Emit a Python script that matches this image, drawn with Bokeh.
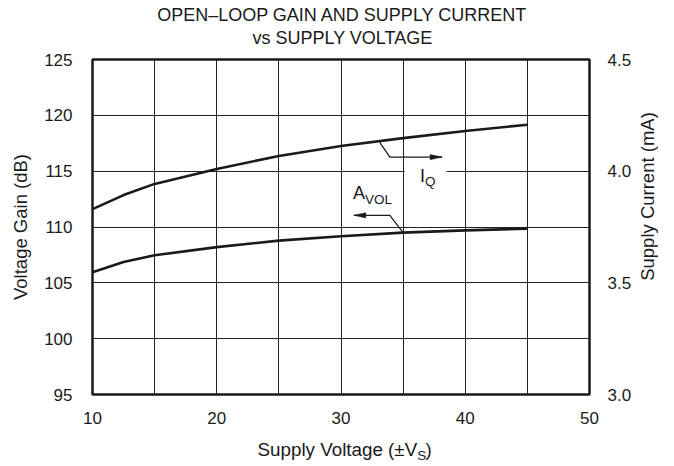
import math
from bokeh.plotting import figure
from bokeh.models import (Range1d, LinearAxis, FixedTicker, Label,
                          BoxAnnotation)
from bokeh.layouts import column, row
from bokeh.core.properties import value
from bokeh.embed import file_html
from bokeh.resources import INLINE

# ---------------- data ----------------
supply_voltage = [10, 12.5, 15, 20, 25, 30, 35, 40, 45]
avol_db = [105.95, 106.87, 107.47, 108.2, 108.78, 109.17, 109.5, 109.7, 109.85]
iq_ma = [3.83, 3.893, 3.943, 4.01, 4.068, 4.113, 4.148, 4.18, 4.208]

x_ticks = [10, 20, 30, 40, 50]
x_grid = [10, 15, 20, 25, 30, 35, 40, 45, 50]
y_ticks = [95, 100, 105, 110, 115, 120, 125]
iq_ticks = [3.0, 3.5, 4.0, 4.5]
iq_tick_labels = ["3.0", "3.5", "4.0", "4.5"]

title_lines = ["OPEN\u2013LOOP GAIN AND SUPPLY CURRENT", "vs SUPPLY VOLTAGE"]
y_label = "Voltage Gain (dB)"
y2_label = "Supply Current (mA)"

# annotation leader points (x in V, y in dB)
iq_leader_x = [33.12, 33.93, 38.14]
iq_leader_y = [117.58, 116.26, 116.26]
avol_leader_x = [34.97, 33.93, 31.03]
avol_leader_y = [109.55, 111.05, 111.05]

FONT = "Liberation Sans"
INK = "#1a1a1a"

X0, X1, Y0, Y1 = 10, 50, 95, 125
FW, FH = 497, 335
BL, BR, BT, BB = 92, 45, 8, 36
TOP_H, BOT_H, RIGHT_W = 51, 32, 24
MAIN_W = BL + FW + BR
MAIN_H = BT + FH + BB
TOTAL_W = MAIN_W + RIGHT_W
px_x = (X1 - X0) / FW   # data units per pixel
px_y = (Y1 - Y0) / FH

p = figure(frame_width=FW, frame_height=FH, x_range=Range1d(X0, X1),
           y_range=Range1d(Y0, Y1), output_backend="svg", toolbar_location=None,
           min_border_left=BL, min_border_right=BR, min_border_top=BT,
           min_border_bottom=BB)
p.extra_y_ranges = {"iq": Range1d(3.0, 4.5)}

p.outline_line_color = INK
p.outline_line_width = 2.5
p.outline_line_alpha = 1.0
p.background_fill_color = "white"
p.border_fill_color = "white"

# grid
p.xgrid.ticker = FixedTicker(ticks=x_grid)
p.ygrid.ticker = FixedTicker(ticks=y_ticks)
for g in (p.xgrid, p.ygrid):
    g.grid_line_color = "#222222"
    g.grid_line_width = 1
    g.grid_line_alpha = 1.0

# axes
left = p.yaxis[0]
bottom = p.xaxis[0]
bottom.ticker = FixedTicker(ticks=x_ticks)
left.ticker = FixedTicker(ticks=y_ticks)
right = LinearAxis(y_range_name="iq", ticker=FixedTicker(ticks=iq_ticks),
                   major_label_overrides={t: s for t, s in zip(iq_ticks, iq_tick_labels)})
p.add_layout(right, "right")

for ax in (bottom, left, right):
    ax.axis_line_alpha = 0
    ax.major_tick_in = 0
    ax.major_tick_out = 0
    ax.minor_tick_in = 0
    ax.minor_tick_out = 0
    ax.major_label_text_font = FONT
    ax.major_label_text_font_size = "17px"
    ax.major_label_text_color = INK
    ax.axis_label_text_font = FONT
    ax.axis_label_text_font_size = "18.5px"
    ax.axis_label_text_font_style = "normal"
    ax.axis_label_text_color = INK

bottom.major_label_standoff = 17
left.major_label_standoff = 20
right.major_label_standoff = 18
left.axis_label = y_label
left.axis_label_standoff = 10

# curves
p.line(supply_voltage, avol_db, line_color=INK, line_width=2.6)
p.line(supply_voltage, iq_ma, line_color=INK, line_width=2.6, y_range_name="iq")

# leaders
p.line(iq_leader_x, iq_leader_y, line_color=INK, line_width=1.2)
p.line(avol_leader_x, avol_leader_y, line_color=INK, line_width=1.2)

def head(tx, ty, direction):
    L, W = 12 * px_x, 2.6 * px_y
    bx = tx - direction * L
    p.patch([tx, bx, bx], [ty, ty + W, ty - W], fill_color=INK, line_color=INK,
            line_width=0.5)

head(iq_leader_x[-1], iq_leader_y[-1], +1)
head(avol_leader_x[-1], avol_leader_y[-1], -1)

# white gap behind I_Q label
p.add_layout(BoxAnnotation(left=35.11, right=38.49, bottom=114.6, top=115.4,
                           fill_color="white", fill_alpha=1.0, line_alpha=0,
                           level="glyph"))

def lab(x, y, text, size, align="left"):
    p.add_layout(Label(x=x, y=y, text=text, text_font=FONT,
                       text_font_size=size, text_color=INK,
                       text_align=align, text_baseline="middle"))

# I_Q
lab(36.76, 114.61, "I", "18px", align="right")
lab(36.76, 114.08, "Q", "13.5px")
# A_VOL
lab(31.93, 113.03, "A", "18px", align="right")
lab(31.93, 112.50, "VOL", "13.5px")


def text_panel(w, h):
    f = figure(width=w, height=h, x_range=Range1d(0, w), y_range=Range1d(h, 0),
               output_backend="svg", toolbar_location=None, min_border=0,
               x_axis_type=None, y_axis_type=None)
    f.outline_line_color = None
    f.grid.visible = False
    f.background_fill_color = "white"
    f.border_fill_color = "white"
    return f


def put(f, x, y, text, size, align="left", angle=0):
    f.text(x=[x], y=[y], text=[text], text_font=value(FONT),
           text_font_size=value(size), text_color=INK, text_align=align,
           text_baseline="middle", angle=angle)


# title panel (pixel coordinates from its top-left)
top = text_panel(TOTAL_W, TOP_H)
put(top, 342, 14.5, title_lines[0], "18px", align="center")
put(top, 342, 37.3, title_lines[1], "18px", align="center")

# right-hand axis title panel
rp = text_panel(RIGHT_W, MAIN_H)
put(rp, 647 - MAIN_W, 206 - TOP_H, y2_label, "18.5px", align="center",
    angle=math.pi / 2)

# x-axis title panel with subscript
bp = text_panel(TOTAL_W, BOT_H)
y_base = TOP_H + MAIN_H
put(bp, 416.7, 449.3 - y_base, "Supply Voltage (\u00b1V", "18.8px", align="right")
put(bp, 416.7, 455.0 - y_base, "S", "13.5px")
put(bp, 425.0, 449.3 - y_base, ")", "18.8px")

layout = column(top, row(p, rp), bp)
open("out.html", "w").write(file_html(layout, INLINE))
